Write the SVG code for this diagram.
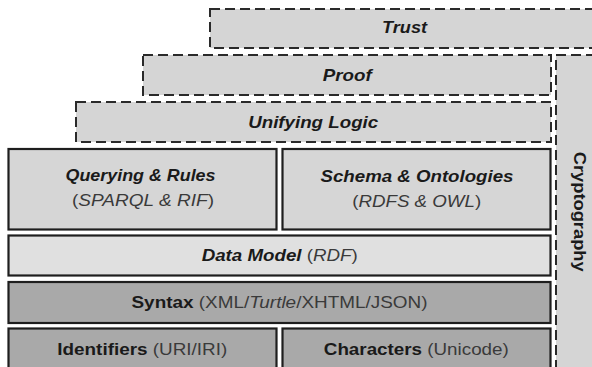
<svg xmlns="http://www.w3.org/2000/svg" width="592" height="367" viewBox="0 0 592 367">
  <style>
    .dash { fill: #d5d5d5; stroke: #2a2a2a; stroke-width: 2; stroke-dasharray: 10 5; }
    .light { fill: #d6d6d6; stroke: #1e1e1e; stroke-width: 2.2; }
    .lighter { fill: #e0e0e0; stroke: #1e1e1e; stroke-width: 2.2; }
    .dark { fill: #a9a9a9; stroke: #1e1e1e; stroke-width: 2.2; }
    text { font-family: "Liberation Sans", Arial, sans-serif; font-size: 16.5px; fill: #1a1a1a; text-anchor: middle; }
    .bi { font-weight: bold; font-style: italic; }
    .b { font-weight: bold; }
    .r { font-weight: normal; font-style: normal; fill: #3a3a3a; }
    .i { font-weight: normal; font-style: italic; fill: #3a3a3a; }
  </style>
  <rect width="592" height="367" fill="#ffffff"/>
  <g id="connectors"/>
  <g id="cryptography">
    <rect class="dash" x="556" y="55" width="60" height="330"/>
    <text class="b" transform="translate(574,211.7) rotate(90)" x="0" y="0" textLength="120" lengthAdjust="spacingAndGlyphs">Cryptography</text>
  </g>
  <g id="trust">
    <rect class="dash" x="210" y="9" width="400" height="39"/>
    <text class="bi" x="404.5" y="33" textLength="45" lengthAdjust="spacingAndGlyphs">Trust</text>
  </g>
  <g id="proof">
    <rect class="dash" x="143" y="55" width="408" height="40"/>
    <text class="bi" x="347.3" y="81" textLength="49" lengthAdjust="spacingAndGlyphs">Proof</text>
  </g>
  <g id="unifying-logic">
    <rect class="dash" x="76" y="102" width="475" height="40"/>
    <text class="bi" x="313.2" y="128" textLength="130" lengthAdjust="spacingAndGlyphs">Unifying Logic</text>
  </g>
  <g id="querying-rules">
    <rect class="light" x="8.5" y="149" width="268" height="80.5"/>
    <text class="bi" x="140.5" y="181" textLength="150" lengthAdjust="spacingAndGlyphs">Querying &amp; Rules</text>
    <text x="143" y="206" textLength="142" lengthAdjust="spacingAndGlyphs"><tspan class="r">(</tspan><tspan class="i">SPARQL &amp; RIF</tspan><tspan class="r">)</tspan></text>
  </g>
  <g id="schema-ontologies">
    <rect class="light" x="282.5" y="149" width="268" height="80.5"/>
    <text class="bi" x="417" y="181.5" textLength="193" lengthAdjust="spacingAndGlyphs">Schema &amp; Ontologies</text>
    <text x="416.7" y="206.5" textLength="129" lengthAdjust="spacingAndGlyphs"><tspan class="r">(</tspan><tspan class="i">RDFS &amp; OWL</tspan><tspan class="r">)</tspan></text>
  </g>
  <g id="data-model">
    <rect class="lighter" x="8.5" y="235.5" width="542" height="40"/>
    <text x="279.7" y="261" textLength="156" lengthAdjust="spacingAndGlyphs"><tspan class="bi">Data Model</tspan><tspan class="r"> (</tspan><tspan class="i">RDF</tspan><tspan class="r">)</tspan></text>
  </g>
  <g id="syntax">
    <rect class="dark" x="8.5" y="282" width="542" height="41"/>
    <text x="279.5" y="307.5" textLength="296" lengthAdjust="spacingAndGlyphs"><tspan class="b">Syntax</tspan><tspan class="r"> (XML/</tspan><tspan class="i">Turtle</tspan><tspan class="r">/XHTML/JSON)</tspan></text>
  </g>
  <g id="identifiers">
    <rect class="dark" x="8.5" y="328.5" width="268" height="50"/>
    <text x="142.3" y="354.5" textLength="170" lengthAdjust="spacingAndGlyphs"><tspan class="b">Identifiers</tspan><tspan class="r"> (URI/IRI)</tspan></text>
  </g>
  <g id="characters">
    <rect class="dark" x="282.5" y="328.5" width="268" height="50"/>
    <text x="416.3" y="354.5" textLength="185" lengthAdjust="spacingAndGlyphs"><tspan class="b">Characters</tspan><tspan class="r"> (Unicode)</tspan></text>
  </g>
</svg>
